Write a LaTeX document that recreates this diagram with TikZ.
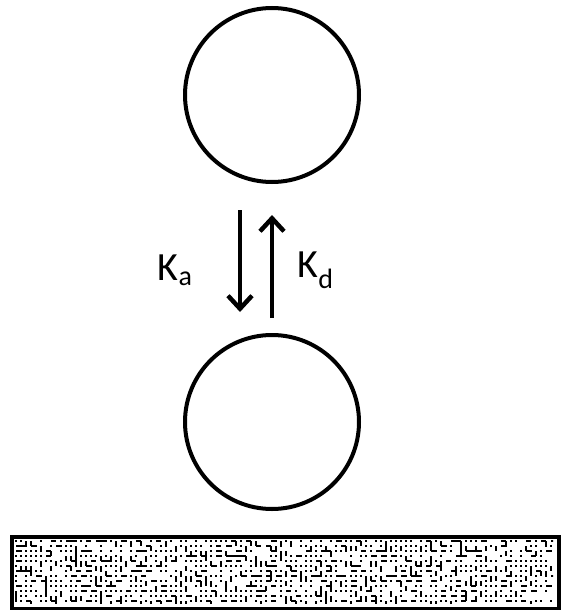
\documentclass[tikz,border=0pt]{standalone}
\usepackage{fontspec}
\setmainfont{Carlito}
\usetikzlibrary{arrows.meta, positioning}

\begin{document}
\begin{tikzpicture}[
    x=1pt, y=-1pt,
    particle/.style={circle, draw, line width=4pt, minimum size=174pt, inner sep=0pt},
    arr/.style={-{Straight Barb[length=13pt, width=24pt, line width=4.5pt]}, line width=4.5pt},
    rate/.style={font=\fontsize{40}{40}\selectfont}
]
\useasboundingbox (0,0) rectangle (560,610);

% --- Particles ---
\node[particle] (free)  at (272, 95) {};
\node[particle] (bound) at (272, 422) {};

% --- Arrow ends ---
\coordinate (aS) at (240, 210);
\coordinate (aE) at (240, 312);
\coordinate (dS) at (272, 318);
\coordinate (dE) at (272, 215);

% --- Rates ---
\draw[arr] (aS) -- (aE);
\draw[arr] (dS) -- (dE);
\node[rate, anchor=east] (ka) at (196, 270) {K\textsubscript{a}};
\node[rate, anchor=west] (kd) at (294, 270) {K\textsubscript{d}};

% --- Surface ---
\node[draw, line width=4pt, minimum width=547pt, minimum height=72pt, inner sep=0pt,
      anchor=north west] (surf) at (10, 535) {};
\pgfmathsetseed{7}
\begin{scope}[line width=2pt]
  \clip (14,539) rectangle (553,603);
  \foreach \i in {0,...,107} {
    \foreach \j in {0,...,12} {
      \pgfmathsetmacro{\px}{16+5*\i}
      \pgfmathsetmacro{\py}{541+5*\j}
      \pgfmathrandominteger{\r}{0}{11}
      \ifnum\r<5
        \fill (\px-1,\py-1) rectangle ++(2.2,2.2);
      \else\ifnum\r<7
        \draw (\px,\py) -- ++(5,0);
      \else\ifnum\r<9
        \draw (\px,\py) -- ++(0,5);
      \fi\fi\fi
    }
  }
\end{scope}

\end{tikzpicture}
\end{document}
